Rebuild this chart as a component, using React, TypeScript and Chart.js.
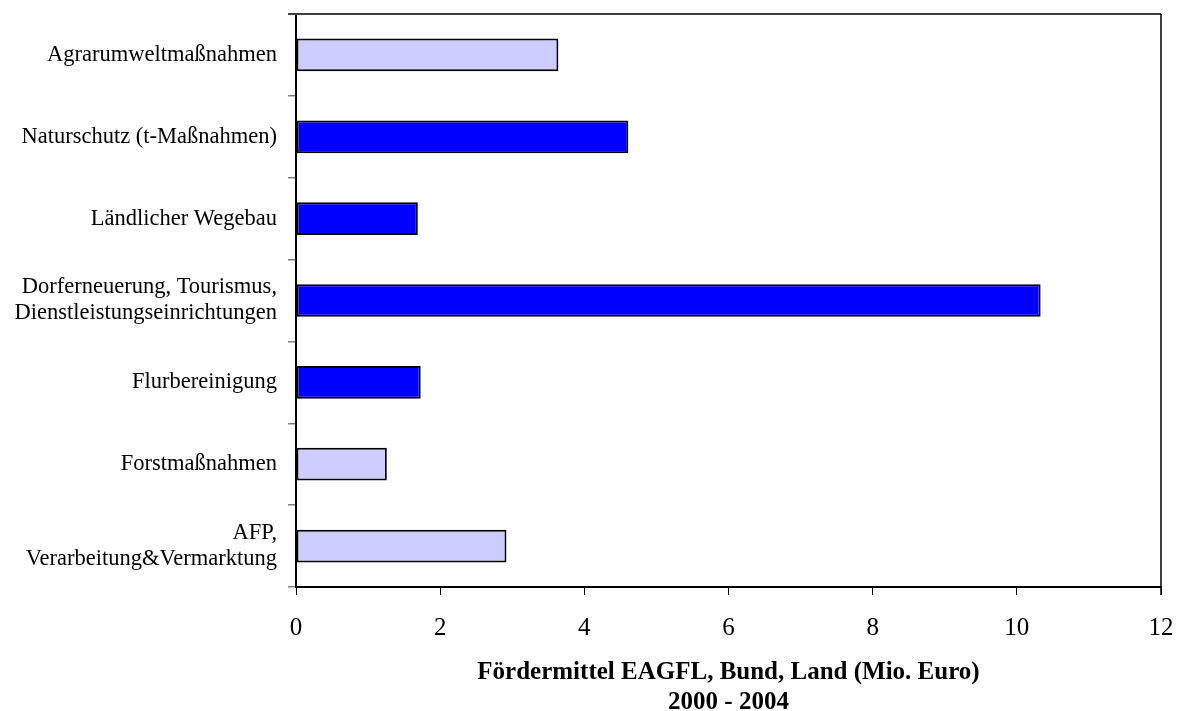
import { useEffect, useRef } from "react";
import { Chart, registerables } from "chart.js";

Chart.register(...registerables);

// Funding measures (top to bottom) and their funding in million euros, 2000-2004
const measures: (string | string[])[] = [
  "Agrarumweltmaßnahmen",
  "Naturschutz (t-Maßnahmen)",
  "Ländlicher Wegebau",
  ["Dorferneuerung, Tourismus,", "Dienstleistungseinrichtungen"],
  "Flurbereinigung",
  "Forstmaßnahmen",
  ["AFP,", "Verarbeitung&Vermarktung"],
];
const fundingMioEuro = [3.64, 4.61, 1.69, 10.33, 1.73, 1.26, 2.92];
// Measures shown in the dark blue group
const blueGroup = [false, true, true, true, true, false, false];

const xTickValues = [0, 2, 4, 6, 8, 10, 12];
const xTitle = ["Fördermittel EAGFL, Bund, Land (Mio. Euro)", "2000 - 2004"];

const LIGHT = "#CCCCFF";
const BLUE = "#0000FF";
const FONT = "'Liberation Serif', 'Times New Roman', serif";

// Draws the top and right frame lines of the plot area
const frame = {
  id: "frame",
  afterDraw(chart: any) {
    const { ctx, chartArea: a } = chart;
    ctx.save();
    ctx.strokeStyle = "#404040";
    ctx.lineWidth = 2;
    ctx.beginPath();
    ctx.moveTo(a.left - 8, a.top);
    ctx.lineTo(a.right, a.top);
    ctx.stroke();
    ctx.strokeStyle = "#000";
    ctx.lineWidth = 1.5;
    ctx.beginPath();
    ctx.moveTo(a.right, a.top);
    ctx.lineTo(a.right, a.bottom + 8);
    ctx.stroke();
    ctx.restore();
  },
};

const noOverflow = (s: any) => {
  s.paddingTop = 0;
  s.paddingBottom = 0;
  s.paddingLeft = 0;
  s.paddingRight = 0;
};

export default function App() {
  const ref = useRef<HTMLCanvasElement>(null);

  useEffect(() => {
    const chart = new Chart(ref.current!, {
      type: "bar",
      data: {
        labels: measures,
        datasets: [
          {
            data: fundingMioEuro,
            backgroundColor: blueGroup.map((b) => (b ? BLUE : LIGHT)),
            borderColor: "#000",
            borderWidth: 2,
            borderSkipped: false,
            categoryPercentage: 1,
            barPercentage: 0.4,
          },
        ],
      },
      options: {
        indexAxis: "y",
        responsive: false,
        animation: false,
        layout: { padding: { top: 14, right: 20, left: 0, bottom: -4 } },
        plugins: { legend: { display: false }, tooltip: { enabled: false } },
        scales: {
          x: {
            type: "linear",
            min: 0,
            max: 12,
            afterBuildTicks: (s: any) => {
              s.ticks = xTickValues.map((v) => ({ value: v }));
            },
            afterFit: (s: any) => {
              s.height = 128;
              noOverflow(s);
            },
            grid: {
              drawOnChartArea: false,
              tickLength: 8,
              color: "#000",
              lineWidth: 1,
            },
            border: { color: "#000", width: 2 },
            ticks: {
              color: "#000",
              padding: 18,
              font: { family: FONT, size: 25 },
              maxRotation: 0,
            },
            title: {
              display: true,
              text: xTitle,
              color: "#000",
              padding: { top: 0, bottom: -3 },
              font: { family: FONT, size: 25, weight: "bold", lineHeight: 1.2 },
            },
          },
          y: {
            type: "category",
            offset: true,
            afterFit: (s: any) => {
              s.width = 296;
              noOverflow(s);
            },
            grid: {
              offset: true,
              drawOnChartArea: false,
              tickLength: 8,
              color: "#808080",
              lineWidth: 1.5,
            },
            border: { color: "#000", width: 2 },
            ticks: {
              color: "#000",
              padding: 11,
              autoSkip: false,
              font: { family: FONT, size: 22.5, lineHeight: 1.15 },
            },
          },
        },
      },
      plugins: [frame],
    });
    return () => chart.destroy();
  }, []);

  return (
    <canvas
      ref={ref}
      width={1181}
      height={711}
      style={{ position: "fixed", left: 0, top: 0, background: "#fff" }}
    />
  );
}
